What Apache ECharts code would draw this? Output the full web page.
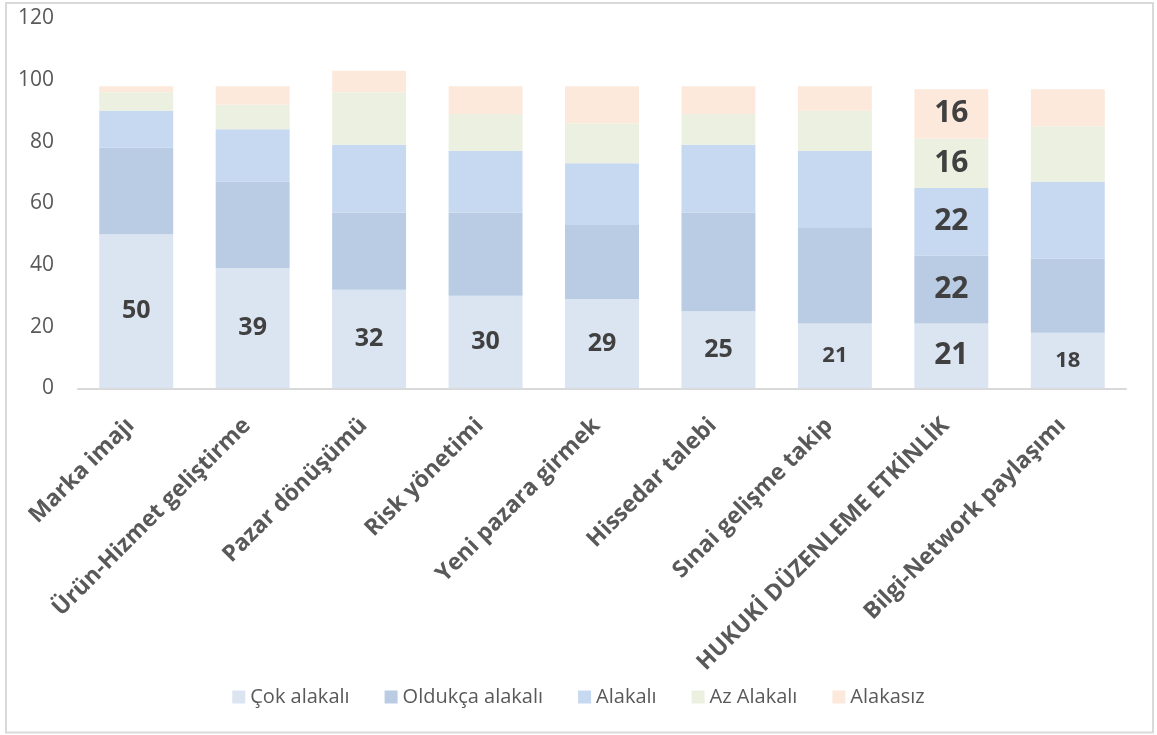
<!DOCTYPE html>
<html>
<head>
<meta charset="utf-8">
<script src="https://cdn.jsdelivr.net/npm/echarts@6/dist/echarts.min.js"></script>
<style>
  html, body { margin: 0; padding: 0; background: #fff; }
  #chart { width: 1157px; height: 735px; }
</style>
</head>
<body>
<div id="chart"></div>
<script>
var categories = ['Marka imajı', 'Ürün-Hizmet geliştirme', 'Pazar dönüşümü', 'Risk yönetimi',
  'Yeni pazara girmek', 'Hissedar talebi', 'Sınai gelişme takip', 'HUKUKİ DÜZENLEME ETKİNLİK',
  'Bilgi-Network paylaşımı'];
var seriesNames = ['Çok alakalı', 'Oldukça alakalı', 'Alakalı', 'Az Alakalı', 'Alakasız'];
var cokAlakali     = [50, 39, 32, 30, 29, 25, 21, 21, 18];
var oldukcaAlakali = [28, 28, 25, 27, 24, 32, 31, 22, 24];
var alakali        = [12, 17, 22, 20, 20, 22, 25, 22, 25];
var azAlakali      = [6, 8, 17, 12, 13, 10, 13, 16, 18];
var alakasiz       = [2, 6, 7, 9, 12, 9, 8, 16, 12];
var yTicks = [0, 20, 40, 60, 80, 100, 120];

var colors = ['#dbe4f1', '#b9cce4', '#c7d9f0', '#ebf0e0', '#fde9db'];
var allValues = [cokAlakali, oldukcaAlakali, alakali, azAlakali, alakasiz];

// which bars carry a value label, and how big it is drawn
function labelSize(seriesIdx, catIdx) {
  if (catIdx === 7) return 30;
  if (seriesIdx !== 0) return 0;
  if (catIdx === 6 || catIdx === 8) return 22;
  return 25;
}

var series = allValues.map(function (vals, si) {
  return {
    name: seriesNames[si],
    type: 'bar',
    stack: 'total',
    barWidth: '63.5%',
    itemStyle: { color: colors[si] },
    emphasis: { disabled: true },
    data: vals.map(function (v, ci) {
      var fs = labelSize(si, ci);
      return {
        value: v,
        label: {
          show: fs > 0,
          position: 'inside',
          fontSize: fs || 12,
          fontWeight: 'bold',
          fontFamily: 'Open Sans',
          color: '#404040'
        }
      };
    })
  };
});

var chart = echarts.init(document.getElementById('chart'));
chart.setOption({
  animation: false,
  color: colors,
  grid: { left: 78, right: 31, top: 18.3, bottom: 346.7, containLabel: false, outerBoundsMode: 'none' },
  legend: {
    data: seriesNames,
    left: 'center',
    top: 682,
    icon: 'rect',
    itemWidth: 13,
    itemHeight: 13,
    itemGap: 35,
    textStyle: { fontSize: 20, color: '#595959', fontFamily: 'Open Sans' }
  },
  xAxis: {
    type: 'category',
    data: categories,
    axisLine: { lineStyle: { color: '#d9d9d9', width: 2 } },
    axisTick: { show: false },
    axisLabel: {
      interval: 0,
      rotate: 45,
      margin: 28,
      padding: [0, 8, 0, 0],
      fontSize: 23,
      fontWeight: 'bold',
      fontFamily: 'Open Sans',
      color: '#595959'
    }
  },
  yAxis: {
    type: 'value',
    min: yTicks[0],
    max: yTicks[yTicks.length - 1],
    interval: 20,
    axisLine: { show: false },
    axisTick: { show: false },
    splitLine: { show: false },
    axisLabel: { fontSize: 21, fontFamily: 'Open Sans', color: '#595959', margin: 24 }
  },
  graphic: [{
    type: 'rect',
    shape: { x: 6, y: 3, width: 1147, height: 729.5 },
    style: { fill: 'none', stroke: '#d9d9d9', lineWidth: 2 },
    silent: true
  }],
  series: series
});
</script>
</body>
</html>
